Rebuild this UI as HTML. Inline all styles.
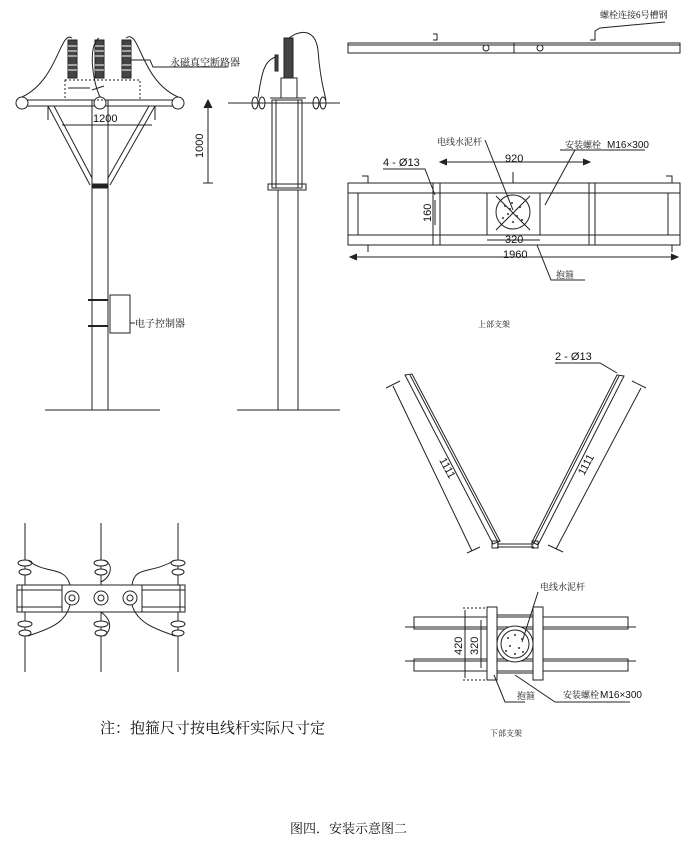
<!DOCTYPE html>
<html><head><meta charset="utf-8"><style>
html,body{margin:0;padding:0;background:#fff;}
svg{display:block;}
text{font-family:"Liberation Sans","Noto Serif CJK SC",serif;fill:#111;}
.cj{font-family:"Liberation Serif","Noto Serif CJK SC",serif;}
</style></head><body>
<svg width="700" height="850" viewBox="0 0 700 850" xmlns="http://www.w3.org/2000/svg" fill="none" stroke="#222" stroke-width="1">
<!-- ===== Left pole front view ===== -->
<g>
<line x1="92" y1="100" x2="92" y2="410"/><line x1="108" y1="100" x2="108" y2="410"/>
<line x1="45" y1="410" x2="160" y2="410"/>
<rect x="92" y="184" width="16" height="4" fill="#222"/>
<line x1="20" y1="100" x2="180" y2="100"/><line x1="20" y1="106" x2="180" y2="106"/>
<circle cx="22" cy="103" r="6" fill="#fff"/><circle cx="100" cy="103" r="6" fill="#fff"/><circle cx="178" cy="103" r="6" fill="#fff"/>
<line x1="48" y1="106" x2="90" y2="185"/><line x1="54" y1="106" x2="92" y2="178"/>
<line x1="155" y1="106" x2="110" y2="185"/><line x1="149" y1="106" x2="108" y2="178"/>
<line x1="48" y1="106" x2="48" y2="120"/><line x1="155" y1="106" x2="155" y2="120"/>
<line x1="62" y1="125" x2="152" y2="125"/>
<rect x="65" y="80" width="75" height="20" stroke-dasharray="2,2"/>
<g fill="#444" stroke="#222">
<rect x="68" y="40" width="9" height="38"/><rect x="95" y="40" width="9" height="38"/><rect x="122" y="40" width="9" height="38"/>
</g>
<g stroke="#fff" stroke-width="1">
<line x1="68" y1="46" x2="77" y2="46"/><line x1="68" y1="51" x2="77" y2="51"/><line x1="68" y1="56" x2="77" y2="56"/><line x1="68" y1="65" x2="77" y2="65"/><line x1="68" y1="70" x2="77" y2="70"/>
<line x1="95" y1="46" x2="104" y2="46"/><line x1="95" y1="51" x2="104" y2="51"/><line x1="95" y1="56" x2="104" y2="56"/><line x1="95" y1="65" x2="104" y2="65"/><line x1="95" y1="70" x2="104" y2="70"/>
<line x1="122" y1="46" x2="131" y2="46"/><line x1="122" y1="51" x2="131" y2="51"/><line x1="122" y1="56" x2="131" y2="56"/><line x1="122" y1="65" x2="131" y2="65"/><line x1="122" y1="70" x2="131" y2="70"/>
</g>
<path d="M72,38 C60,30 58,80 22,97"/><path d="M126,38 C140,28 140,80 178,97"/><path d="M99,38 C88,45 92,80 100,97"/>
<line x1="68" y1="88" x2="90" y2="88"/><line x1="92" y1="90" x2="104" y2="86"/>
<path d="M130,60 L150,60 L153,67 L228,67"/>
<text x="93" y="122" font-size="11" stroke="none">1200</text>
<text class="cj" x="170" y="66" font-size="10" stroke="none">永磁真空断路器</text>
<rect x="110" y="295" width="20" height="38"/>
<path d="M88,300 L108,300 M88,326 L108,326" stroke-width="2"/>
<path d="M130,323 L135,323" /><text class="cj" x="135" y="327" font-size="10" stroke="none">电子控制器</text>
</g>
<!-- ===== Middle pole side view ===== -->
<g>
<line x1="278" y1="190" x2="278" y2="410"/><line x1="298" y1="190" x2="298" y2="410"/>
<line x1="237" y1="410" x2="340" y2="410"/>
<rect x="272" y="100" width="30" height="88"/><line x1="276" y1="100" x2="276" y2="188"/><line x1="298" y1="100" x2="298" y2="188"/>
<rect x="268" y="184" width="38" height="6"/>
<line x1="228" y1="103" x2="340" y2="103"/><line x1="270" y1="98" x2="306" y2="98"/>
<ellipse cx="255" cy="103" rx="3" ry="6"/><ellipse cx="262" cy="103" rx="3" ry="6"/><ellipse cx="316" cy="103" rx="3" ry="6"/><ellipse cx="323" cy="103" rx="3" ry="6"/>
<rect x="281" y="78" width="16" height="20"/>
<rect x="284" y="38" width="9" height="40" fill="#444"/>
<rect x="275" y="55" width="3" height="16" fill="#444"/>
<path d="M289,38 C300,30 315,28 318,50 C320,80 325,95 326,100"/>
<path d="M276,57 C265,60 262,70 258,98"/>
<path d="M208,100 L208,183 M203,183 L213,183" /><path d="M204,108 L208,100 L212,108" fill="#222"/>
<text x="0" y="0" font-size="11" stroke="none" transform="translate(203,158) rotate(-90)">1000</text>
</g>
<!-- ===== Top right channel ===== -->
<g>
<rect x="348" y="43" width="332" height="10"/>
<line x1="348" y1="45" x2="680" y2="45"/>
<line x1="514" y1="43" x2="514" y2="53"/>
<path d="M433,40 L437,40 L437,34 L433,34"/><path d="M590,40 L595,40 L595,31 L600,28 L665,22"/>
<circle cx="486" cy="48" r="3"/><circle cx="540" cy="48" r="3"/>
<text class="cj" x="600" y="18" font-size="9" stroke="none">螺栓连接6号槽钢</text>
</g>
<!-- ===== Upper bracket ===== -->
<g>
<rect x="348" y="183" width="332" height="62"/>
<line x1="348" y1="193" x2="680" y2="193"/><line x1="348" y1="235" x2="680" y2="235"/>
<line x1="358" y1="193" x2="358" y2="235"/><line x1="668" y1="193" x2="668" y2="235"/>
<line x1="433" y1="183" x2="433" y2="245"/><line x1="440" y1="183" x2="440" y2="245"/>
<line x1="487" y1="193" x2="487" y2="235"/><line x1="540" y1="193" x2="540" y2="235"/>
<line x1="589" y1="183" x2="589" y2="245"/><line x1="595" y1="183" x2="595" y2="245"/>
<path d="M362,176 L368,176 L368,183 M362,245 L368,245 L368,252"/><path d="M666,176 L672,176 L672,183 M666,245 L672,245 L672,252"/>
<path d="M513,172 L513,183 L522,183"/>
<circle cx="513" cy="212" r="17" fill="#fff"/>
<g fill="#333" stroke="none"><circle cx="505" cy="206" r="1"/><circle cx="512" cy="203" r="1"/><circle cx="520" cy="207" r="1"/><circle cx="508" cy="214" r="1"/><circle cx="517" cy="216" r="1"/><circle cx="503" cy="218" r="1"/><circle cx="513" cy="222" r="1"/><circle cx="522" cy="220" r="1"/><circle cx="510" cy="209" r="1"/></g>
<line x1="496" y1="196" x2="530" y2="230"/><line x1="530" y1="196" x2="496" y2="230"/>
<path d="M440,162 L590,162"/><path d="M447,159 L440,162 L447,165" fill="#222"/><path d="M583,159 L590,162 L583,165" fill="#222"/>
<text x="505" y="162" font-size="11" stroke="none">920</text>
<path d="M383,169 L425,169 L435,195"/><text x="383" y="166" font-size="11" stroke="none">4 - Ø13</text>
<path d="M435,200 L435,225"/><text x="0" y="0" font-size="11" stroke="none" transform="translate(431,222) rotate(-90)">160</text>
<path d="M487,240 L540,240"/><text x="505" y="243" font-size="11" stroke="none">320</text>
<path d="M350,257 L678,257"/><path d="M357,254 L350,257 L357,260" fill="#222"/><path d="M671,254 L678,257 L671,260" fill="#222"/>
<text x="503" y="258" font-size="11" stroke="none">1960</text>
<path d="M485,140 L513,210"/><text class="cj" x="437" y="145" font-size="9" stroke="none">电线水泥杆</text>
<path d="M560,150 L645,150 M575,150 L545,205"/><text class="cj" x="565" y="148" font-size="9" stroke="none">安装螺栓</text><text x="607" y="148" font-size="10" stroke="none">M16×300</text>
<path d="M537,245 L551,280 L585,280"/><text class="cj" x="556" y="278" font-size="9" stroke="none">抱箍</text>
<text class="cj" x="478" y="327" font-size="8" stroke="none">上部支架</text>
</g>
<!-- ===== V bracket ===== -->
<g>
<path d="M405,375 L412,374 L500,541 L493,544 Z"/><line x1="410" y1="375" x2="498" y2="542"/>
<path d="M617,375 L624,376 L538,545 L532,542 Z"/><line x1="619" y1="376" x2="534" y2="543"/>
<line x1="497" y1="544" x2="534" y2="544"/><line x1="497" y1="547" x2="534" y2="547"/>
<rect x="492" y="541" width="6" height="7"/><rect x="532" y="541" width="6" height="7"/>
<line x1="393" y1="386" x2="472" y2="551"/><line x1="386" y1="388" x2="400" y2="381"/><line x1="467" y1="553" x2="480" y2="547"/>
<line x1="641" y1="388" x2="556" y2="549"/><line x1="632" y1="381" x2="646" y2="388"/><line x1="548" y1="545" x2="563" y2="552"/>
<text x="0" y="0" font-size="11" stroke="none" transform="translate(439,460) rotate(62)">1111</text>
<text x="0" y="0" font-size="11" stroke="none" transform="translate(584,476) rotate(-62)">1111</text>
<path d="M555,363 L600,363 L617,373"/><text x="555" y="360" font-size="11" stroke="none">2 - Ø13</text>
</g>
<!-- ===== Lower bracket ===== -->
<g>
<rect x="414" y="617" width="214" height="12"/><rect x="414" y="659" width="214" height="12"/>
<line x1="405" y1="627" x2="636" y2="627"/><line x1="405" y1="661" x2="636" y2="661"/>
<rect x="487" y="607" width="10" height="73" fill="#fff"/><rect x="533" y="607" width="10" height="73" fill="#fff"/>
<circle cx="515" cy="644" r="18" fill="#fff"/><circle cx="515" cy="644" r="14"/>
<g fill="#333" stroke="none"><circle cx="508" cy="638" r="1"/><circle cx="515" cy="635" r="1"/><circle cx="522" cy="639" r="1"/><circle cx="510" cy="646" r="1"/><circle cx="519" cy="648" r="1"/><circle cx="506" cy="651" r="1"/><circle cx="515" cy="654" r="1"/><circle cx="523" cy="652" r="1"/></g>
<line x1="497" y1="615" x2="533" y2="615"/><line x1="497" y1="673" x2="533" y2="673"/>
<line x1="463" y1="608" x2="487" y2="608" stroke-dasharray="2,2"/><line x1="463" y1="680" x2="487" y2="680" stroke-dasharray="2,2"/>
<line x1="465" y1="610" x2="465" y2="678"/><line x1="481" y1="620" x2="481" y2="668"/>
<text x="0" y="0" font-size="11" stroke="none" transform="translate(462,655) rotate(-90)">420</text>
<text x="0" y="0" font-size="11" stroke="none" transform="translate(478,655) rotate(-90)">320</text>
<path d="M538,592 L522,642"/><text class="cj" x="540" y="590" font-size="9" stroke="none">电线水泥杆</text>
<path d="M494,675 L505,702 L525,702"/><text class="cj" x="517" y="699" font-size="9" stroke="none">抱箍</text>
<path d="M515,675 L555,702 L630,702"/><text class="cj" x="563" y="698" font-size="9" stroke="none">安装螺栓</text><text x="600" y="698" font-size="10" stroke="none">M16×300</text>
<text class="cj" x="490" y="736" font-size="8" stroke="none">下部支架</text>
</g>
<!-- ===== Bottom-left plan ===== -->
<g>
<line x1="25" y1="523" x2="25" y2="672"/><line x1="101" y1="523" x2="101" y2="672"/><line x1="178" y1="523" x2="178" y2="672"/>
<rect x="17" y="585" width="168" height="27" fill="#fff"/>
<line x1="17" y1="590" x2="62" y2="590"/><line x1="17" y1="607" x2="62" y2="607"/>
<line x1="142" y1="590" x2="185" y2="590"/><line x1="142" y1="607" x2="185" y2="607"/>
<line x1="62" y1="585" x2="62" y2="612"/><line x1="142" y1="585" x2="142" y2="612"/>
<line x1="22" y1="585" x2="22" y2="612"/><line x1="180" y1="585" x2="180" y2="612"/>
<circle cx="72" cy="598" r="7"/><circle cx="72" cy="598" r="3"/>
<circle cx="101" cy="598" r="7"/><circle cx="101" cy="598" r="3"/>
<circle cx="130" cy="598" r="7"/><circle cx="130" cy="598" r="3"/>
<g fill="#fff">
<ellipse cx="25" cy="563" rx="7" ry="3"/><ellipse cx="25" cy="572" rx="6" ry="3"/>
<ellipse cx="101" cy="563" rx="7" ry="3"/><ellipse cx="101" cy="572" rx="6" ry="3"/>
<ellipse cx="178" cy="563" rx="7" ry="3"/><ellipse cx="178" cy="572" rx="6" ry="3"/>
<ellipse cx="25" cy="624" rx="7" ry="3"/><ellipse cx="25" cy="633" rx="6" ry="3"/>
<ellipse cx="101" cy="624" rx="7" ry="3"/><ellipse cx="101" cy="633" rx="6" ry="3"/>
<ellipse cx="178" cy="624" rx="7" ry="3"/><ellipse cx="178" cy="633" rx="6" ry="3"/>
</g>
<path d="M28,560 C45,575 65,565 70,585"/><path d="M104,560 C115,565 110,578 101,582"/><path d="M175,560 C150,575 135,565 132,585"/>
<path d="M70,605 C65,625 45,630 28,636"/><path d="M101,612 C112,620 112,630 104,636"/><path d="M132,605 C138,625 160,630 175,636"/>
<line x1="80" y1="585" x2="125" y2="585"/>
</g>
<text class="cj" x="100" y="733" font-size="15" stroke="none">注：抱箍尺寸按电线杆实际尺寸定</text>
<text class="cj" x="290" y="833" font-size="13" stroke="none">图四．安装示意图二</text>
</svg>
</body></html>
